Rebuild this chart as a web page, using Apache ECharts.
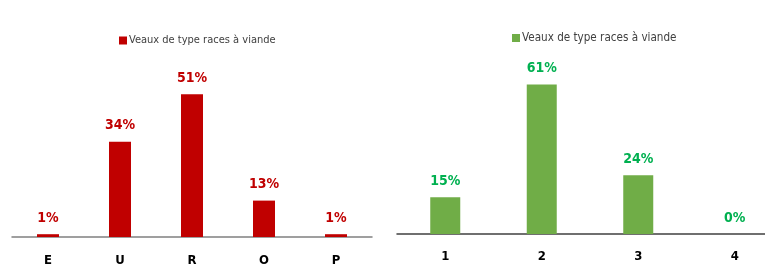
<!DOCTYPE html>
<html>
<head>
<meta charset="utf-8">
<script src="https://cdn.jsdelivr.net/npm/echarts@6/dist/echarts.min.js"></script>
<style>
  html, body { margin: 0; padding: 0; background: #fff; overflow: hidden; }
  #main { width: 790px; height: 275px; }
</style>
</head>
<body>
<div id="main"></div>
<script>
var seriesName = 'Veaux de type races à viande';
// conformation EUROP
var catsLeft = ['E', 'U', 'R', 'O', 'P'];
var valsLeft = [1, 34, 51, 13, 1];
// état d'engraissement
var catsRight = ['1', '2', '3', '4'];
var valsRight = [15, 61, 24, 0];

var font = "'DejaVu Sans Condensed', 'Liberation Sans', sans-serif";

var myChart = echarts.init(document.getElementById('main'));
var option = {
  backgroundColor: '#fff',
  animation: false,
  textStyle: { fontFamily: font },
  legend: [
    {
      left: 114, top: 30,
      itemWidth: 8, itemHeight: 8, itemGap: 4,
      data: [{ name: seriesName, icon: 'rect', itemStyle: { color: '#C00000' } }],
      textStyle: { fontFamily: font, fontSize: 11, color: '#404040', padding: [0, 0, 0, -3] },
      selectedMode: false
    },
    {
      left: 507, top: 27,
      itemWidth: 8, itemHeight: 8, itemGap: 4,
      data: [{ name: seriesName, icon: 'rect', itemStyle: { color: '#70AD47' } }],
      textStyle: { fontFamily: font, fontSize: 11.6, color: '#404040', padding: [0, 0, 0, -3] },
      selectedMode: false
    }
  ],
  grid: [
    { left: 12, width: 360, top: 69, height: 168 },
    { left: 397, width: 386, top: 65, height: 169 }
  ],
  xAxis: [
    {
      gridIndex: 0, type: 'category', data: catsLeft,
      axisLine: { lineStyle: { color: '#808080', width: 1.5 } },
      axisTick: { show: false },
      axisLabel: { color: '#000', fontWeight: 'bold', fontSize: 13, margin: 17, fontFamily: font }
    },
    {
      gridIndex: 1, type: 'category', data: catsRight,
      axisLine: { lineStyle: { color: '#404040', width: 1.5 } },
      axisTick: { show: false },
      axisLabel: { color: '#000', fontWeight: 'bold', fontSize: 13, margin: 16, fontFamily: font }
    }
  ],
  yAxis: [
    { gridIndex: 0, type: 'value', min: 0, max: 60, show: false },
    { gridIndex: 1, type: 'value', min: 0, max: 69, show: false }
  ],
  series: [
    {
      name: seriesName, type: 'bar', xAxisIndex: 0, yAxisIndex: 0,
      data: valsLeft, barWidth: 22,
      itemStyle: { color: '#C00000' },
      label: {
        show: true, position: 'top', distance: 9,
        formatter: '{c}%', color: '#C00000', fontWeight: 'bold', fontSize: 14, fontFamily: font
      }
    },
    {
      name: seriesName, type: 'bar', xAxisIndex: 1, yAxisIndex: 1,
      data: valsRight, barWidth: 30,
      itemStyle: { color: '#70AD47' },
      label: {
        show: true, position: 'top', distance: 9,
        formatter: '{c}%', color: '#00B050', fontWeight: 'bold', fontSize: 14, fontFamily: font
      }
    }
  ]
};
myChart.setOption(option);
</script>
</body>
</html>
